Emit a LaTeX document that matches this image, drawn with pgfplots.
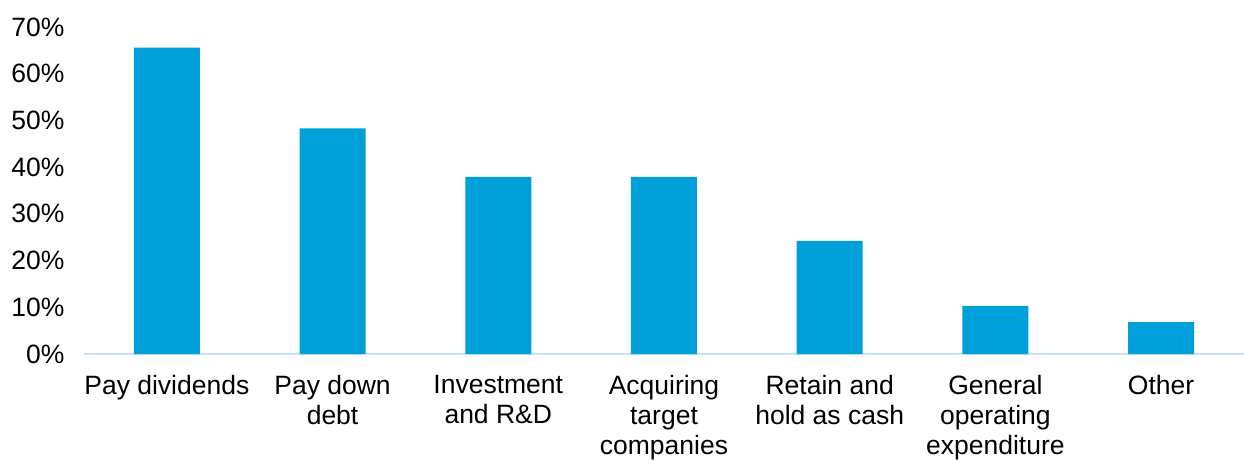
\documentclass[border=0pt]{standalone}
\usepackage{fontspec}
\setmainfont{Liberation Sans}
\usepackage{pgfplots}
\pgfplotsset{compat=1.18}

\definecolor{barblue}{HTML}{00A0DA}
\definecolor{axisblue}{HTML}{C6E2F5}

\begin{document}
\begin{tikzpicture}
\begin{axis}[
    scale only axis,
    width=1160pt,
    height=327pt,
    xmin=-0.5, xmax=6.5,
    ymin=0, ymax=70,
    ybar,
    bar width=66pt,
    axis y line*=left,
    y axis line style={draw=none},
    axis x line*=bottom,
    x axis line style={draw=axisblue, line width=1.5pt, -},
    xtick=data,
    xticklabels={Pay dividends,Pay down\\debt,Investment\\and R\&D,Acquiring\\target\\companies,Retain and\\hold as cash,General\\operating\\expenditure,Other},
    xtick style={draw=none},
    xticklabel style={align=center, font=\fontsize{26.5}{30}\selectfont, anchor=north, yshift=-13pt},
    ytick={0,10,...,70},
    yticklabels={0\%,10\%,20\%,30\%,40\%,50\%,60\%,70\%},
    ytick style={draw=none},
    yticklabel style={font=\fontsize{26.5}{30}\selectfont, xshift=-16pt},
    clip=false,
]
\addplot[fill=barblue, draw=none] coordinates {
    (0, 65.6)
    (1, 48.3)
    (2, 37.9)
    (3, 37.9)
    (4, 24.2)
    (5, 10.3)
    (6, 6.8)
};
\end{axis}
\pgfresetboundingbox
\path[use as bounding box] (-84pt,-105pt) rectangle (1160pt,354pt);
\end{tikzpicture}
\end{document}
